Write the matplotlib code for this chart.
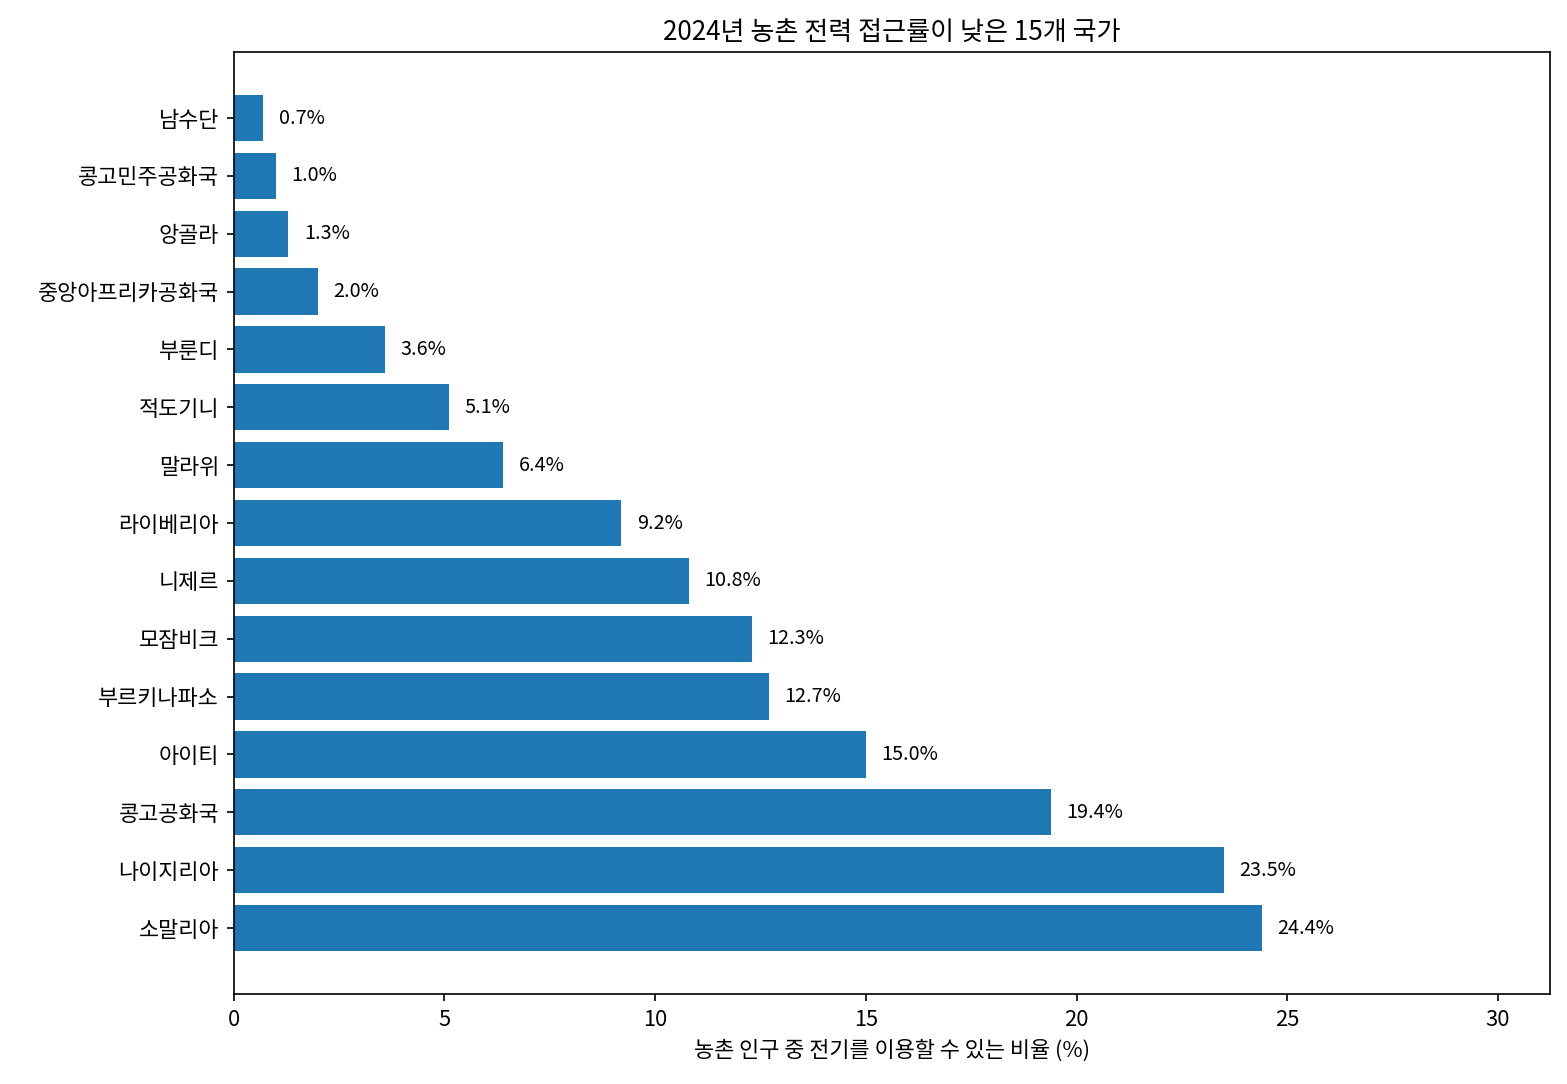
import matplotlib.pyplot as plt

plt.rcParams['font.family'] = ['Noto Sans CJK KR', 'DejaVu Sans']

# 국가별 농촌 전력 접근률 (%)
countries = ['소말리아', '나이지리아', '콩고공화국', '아이티', '부르키나파소', '모잠비크', '니제르',
             '라이베리아', '말라위', '적도기니', '부룬디', '중앙아프리카공화국', '앙골라',
             '콩고민주공화국', '남수단']
values = [24.4, 23.5, 19.4, 15.0, 12.7, 12.3, 10.8, 9.2, 6.4, 5.1, 3.6, 2.0, 1.3, 1.0, 0.7]

fig, ax = plt.subplots(figsize=(10.453, 7.227), dpi=150)
bars = ax.barh(countries, values, color='#1f77b4')

for bar, v in zip(bars, values):
    ax.text(v + max(values) * 0.015, bar.get_y() + bar.get_height() / 2, f'{v:.1f}%',
            va='center', ha='left', fontsize=9.5)

ax.set_xlim(0, max(values) * 1.28)
ax.set_xlabel('농촌 인구 중 전기를 이용할 수 있는 비율 (%)', fontsize=10.5)
ax.set_title('2024년 농촌 전력 접근률이 낮은 15개 국가', fontsize=12.5)
ax.tick_params(axis='y', labelsize=10.5)
ax.tick_params(axis='x', labelsize=10.5)

fig.subplots_adjust(left=0.149, right=0.9885, top=0.952, bottom=0.083)
plt.savefig('out.png', dpi=150)
